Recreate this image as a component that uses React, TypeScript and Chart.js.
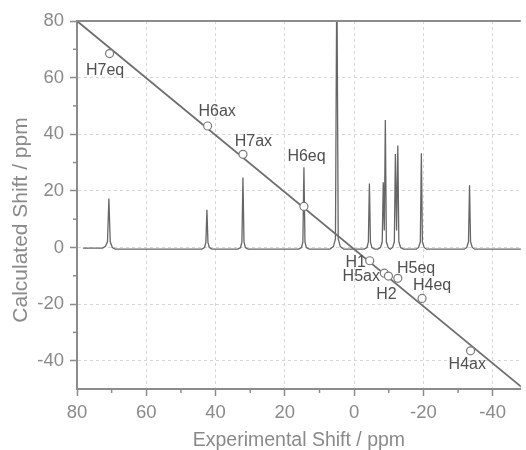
import React, { useEffect, useRef } from 'react';
import { Chart, registerables } from 'chart.js';

Chart.register(...registerables);

// ---- axes ----
const xTickValues = [80, 60, 40, 20, 0, -20, -40];
const yTickValues = [80, 60, 40, 20, 0, -20, -40];
const minorTickValues = [70, 50, 30, 10, -10, -30];
const xAxisMin = -48.1;
const xAxisMax = 80;
const yAxisMin = -50;
const yAxisMax = 80;
const xAxisTitle = 'Experimental Shift / ppm';
const yAxisTitle = 'Calculated Shift / ppm';

// ---- assigned shifts (experimental vs calculated) ----
const protonLabels = ['H7eq', 'H6ax', 'H7ax', 'H6eq', 'H1', 'H5ax', 'H2', 'H5eq', 'H4eq', 'H4ax'];
const experimentalShift = [70.6, 42.3, 32.1, 14.5, -4.5, -8.7, -9.9, -12.6, -19.6, -33.6];
const calculatedShift = [68.5, 42.9, 32.9, 14.5, -4.7, -9.1, -10.1, -10.9, -18.0, -36.5];

// ---- correlation line ----
const fitX = [80, -50];
const fitY = [80, -51];

// ---- experimental spectrum trace ----
const spectrumX = [
  78.3, 72.6, 71.8, 71.2, 70.8, 70.4, 69.8, 69.0,
  44.0, 43.2, 42.8, 42.5, 42.2, 41.8, 41.0,
  33.6, 32.8, 32.4, 32.1, 31.8, 31.4, 30.6,
  16.0, 15.2, 14.8, 14.5, 14.2, 13.8, 13.0,
  7.0, 6.0, 5.4, 5.0, 4.6, 4.0, 3.0,
  -2.9, -3.7, -4.1, -4.4, -4.7, -5.1, -5.9,
  -6.8, -7.6, -8.1, -8.4, -8.7, -9.0, -9.3, -9.8, -10.4,
  -10.6, -11.1, -11.6, -11.9, -12.25, -12.6, -12.9, -13.4, -14.2,
  -17.9, -18.6, -19.1, -19.4, -19.7, -20.2, -20.9,
  -31.8, -32.5, -33.0, -33.3, -33.6, -34.1, -34.8,
  -50,
];
const spectrumY = [
  -0.2, -0.2, 0.4, 2.0, 17.3, 2.0, 0.0, -0.6,
  -0.6, 0.0, 1.8, 13.3, 1.8, 0.0, -0.6,
  -0.6, 0.0, 2.0, 24.7, 2.0, 0.0, -0.6,
  -0.6, 0.0, 2.0, 28.3, 2.0, 0.0, -0.6,
  -0.6, 0.3, 3.0, 100, 3.0, 0.3, -0.6,
  -0.6, 0.0, 2.0, 22.6, 2.0, 0.0, -0.6,
  -0.6, 0.0, 2.0, 23.0, 6.0, 45.0, 2.0, 0.0, -0.6,
  -0.6, 0.0, 2.0, 33.0, 6.0, 36.0, 2.0, 0.0, -0.6,
  -0.6, 0.0, 2.0, 33.3, 2.0, 0.0, -0.6,
  -0.6, 0.0, 2.0, 22.0, 2.0, 0.0, -0.6,
  -0.6,
];

// ---- label placement (pixel offsets from each marker) ----
const labelOffsetX = [-4.5, 9.5, 10.5, 2.6, -14, -23, -2, 18.3, 10, -3.3];
const labelOffsetY = [17, -14.5, -12.5, -49.5, 1.5, 3.5, 19, -9.3, -13, 14.3];

const FONT = "'Liberation Sans', Arial, Helvetica, sans-serif";
const axisColor = '#8c8c8c';
const textColor = '#8a8a8a';
const gridColor = '#d6d6d6';
const labelColor = '#505050';

const decorPlugin = {
  id: 'decor',
  afterDatasetsDraw(chart: any) {
    const { ctx } = chart;
    const meta = chart.getDatasetMeta(0);
    ctx.save();
    ctx.font = `16px ${FONT}`;
    ctx.fillStyle = labelColor;
    ctx.textAlign = 'center';
    ctx.textBaseline = 'middle';
    meta.data.forEach((pt: any, i: number) => {
      ctx.fillText(protonLabels[i], pt.x + labelOffsetX[i], pt.y + labelOffsetY[i]);
    });
    ctx.restore();
  },
  afterDraw(chart: any) {
    const { ctx, chartArea, scales } = chart;
    ctx.save();
    ctx.strokeStyle = axisColor;
    ctx.lineWidth = 2;
    ctx.beginPath();
    ctx.moveTo(chartArea.left - 1, chartArea.top);
    ctx.lineTo(chartArea.right, chartArea.top);
    ctx.stroke();
    ctx.lineWidth = 1.5;
    minorTickValues.forEach((v) => {
      const px = scales.x.getPixelForValue(v);
      ctx.beginPath();
      ctx.moveTo(px, chartArea.bottom);
      ctx.lineTo(px, chartArea.bottom + 4);
      ctx.stroke();
      const py = scales.y.getPixelForValue(v);
      ctx.beginPath();
      ctx.moveTo(chartArea.left, py);
      ctx.lineTo(chartArea.left - 4, py);
      ctx.stroke();
    });
    // y-axis title
    ctx.translate(21, chartArea.top + (chartArea.bottom - chartArea.top) / 2 + 15);
    ctx.rotate(-Math.PI / 2);
    ctx.font = `21px ${FONT}`;
    ctx.fillStyle = textColor;
    ctx.textAlign = 'center';
    ctx.textBaseline = 'middle';
    ctx.fillText(yAxisTitle, 0, 0);
    ctx.restore();
  },
};

export default function App() {
  const canvasRef = useRef<HTMLCanvasElement | null>(null);

  useEffect(() => {
    if (!canvasRef.current) return;
    const chart = new Chart(canvasRef.current, {
      type: 'scatter',
      data: {
        datasets: [
          {
            label: 'assigned',
            data: experimentalShift.map((x, i) => ({ x, y: calculatedShift[i] })),
            showLine: false,
            pointStyle: 'circle',
            pointRadius: 4,
            pointBackgroundColor: '#ffffff',
            pointBorderColor: '#7a7a7a',
            pointBorderWidth: 1.2,
          },
          {
            label: 'fit',
            data: fitX.map((x, i) => ({ x, y: fitY[i] })),
            showLine: true,
            borderColor: '#6e6e6e',
            borderWidth: 1.8,
            pointRadius: 0,
          },
          {
            label: 'spectrum',
            data: spectrumX.map((x, i) => ({ x, y: spectrumY[i] })),
            showLine: true,
            borderColor: '#666666',
            borderWidth: 1.3,
            pointRadius: 0,
            tension: 0,
          },
        ],
      },
      options: {
        animation: false,
        responsive: false,
        devicePixelRatio: 1,
        events: [],
        layout: { padding: { top: 21, right: 0, left: 0, bottom: 0 } },
        plugins: {
          legend: { display: false },
          tooltip: { enabled: false },
        },
        scales: {
          x: {
            type: 'linear',
            reverse: true,
            min: xAxisMin,
            max: xAxisMax,
            afterBuildTicks: (scale: any) => {
              scale.ticks = xTickValues.map((v) => ({ value: v }));
            },
            afterFit: (scale: any) => {
              scale.height = 61;
            },
            grid: {
              color: gridColor,
              lineWidth: 1,
              tickLength: 7,
              tickColor: axisColor,
              tickWidth: 1.5,
            },
            border: { display: true, color: axisColor, width: 2, dash: [3, 3] },
            ticks: {
              color: textColor,
              font: { family: FONT, size: 18.5 },
              padding: 6,
              maxRotation: 0,
              autoSkip: false,
            },
            title: {
              display: true,
              text: xAxisTitle,
              color: textColor,
              font: { family: FONT, size: 19.5 },
              padding: { top: 0, bottom: -2 },
            },
          },
          y: {
            type: 'linear',
            min: yAxisMin,
            max: yAxisMax,
            afterBuildTicks: (scale: any) => {
              scale.ticks = yTickValues.map((v) => ({ value: v }));
            },
            afterFit: (scale: any) => {
              scale.width = 77;
            },
            grid: {
              color: gridColor,
              lineWidth: 1,
              tickLength: 7,
              tickColor: axisColor,
              tickWidth: 1.5,
            },
            border: { display: true, color: axisColor, width: 2, dash: [3, 3] },
            ticks: {
              color: textColor,
              font: { family: FONT, size: 18.5 },
              padding: 6,
              autoSkip: false,
            },
            title: { display: false },
          },
        },
      },
      plugins: [decorPlugin],
    } as any);
    return () => chart.destroy();
  }, []);

  return (
    <div style={{ position: 'absolute', left: 0, top: 0, width: 526, height: 450, background: '#ffffff' }}>
      <canvas ref={canvasRef} width={526} height={450} />
    </div>
  );
}
